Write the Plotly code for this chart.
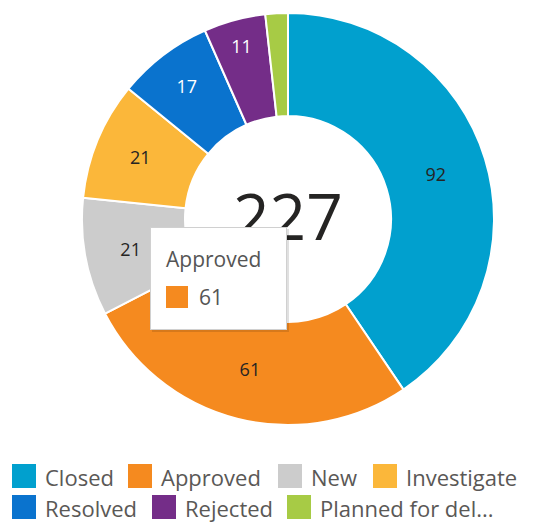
import plotly.graph_objects as go

# ---- data ----
categories = ["Closed", "Approved", "New", "Investigate", "Resolved", "Rejected", "Planned for del..."]
values = [92, 61, 21, 21, 17, 11, 4]
colors = ["#01A0CE", "#F58A1F", "#CCCCCC", "#FBB73A", "#0A73CE", "#742D88", "#A7CB45"]
text_colors = ["#252423", "#252423", "#252423", "#252423", "#FFFFFF", "#FFFFFF", "#252423"]
show_text = [True, True, True, True, True, True, False]
total = sum(values)
tooltip_index = 1

W, H = 534, 522

def px(x):
    return x / W

def py(y):
    return 1 - y / H

texts = [str(v) if s else "" for v, s in zip(values, show_text)]

fig = go.Figure(go.Pie(
    labels=categories,
    values=values,
    marker=dict(colors=colors, line=dict(color="white", width=2)),
    hole=0.5,
    sort=False,
    direction="clockwise",
    rotation=0,
    text=texts,
    textinfo="text",
    textposition="inside",
    insidetextorientation="horizontal",
    textfont=dict(family="Open Sans", size=18, color=text_colors),
    domain=dict(x=[px(82), px(494)], y=[py(425), py(13)]),
    showlegend=False,
    hoverinfo="skip",
    automargin=False,
))

annotations = []
shapes = []

# center total
annotations.append(dict(
    x=px(288), y=py(216), xref="paper", yref="paper", text=str(total),
    showarrow=False, font=dict(family="Open Sans", size=64, color="#252423"),
    xanchor="center", yanchor="middle",
))

# tooltip (shadow + box)
tx0, ty0, tx1, ty1 = 150, 227, 287, 330
annotations.append(dict(
    x=px(tx0 + 2), y=py(ty0 + 2), xref="paper", yref="paper", text=" ",
    showarrow=False, xanchor="left", yanchor="top",
    width=tx1 - tx0, height=ty1 - ty0, bgcolor="rgba(0,0,0,0.12)", borderwidth=0, borderpad=0,
))
annotations.append(dict(
    x=px(tx0), y=py(ty0), xref="paper", yref="paper", text=" ",
    showarrow=False, xanchor="left", yanchor="top",
    width=tx1 - tx0 - 2, height=ty1 - ty0 - 2, bgcolor="white", bordercolor="#D0D0D0", borderwidth=1, borderpad=0,
))
annotations.append(dict(
    x=px(164), y=py(259), xref="paper", yref="paper", text=categories[tooltip_index],
    showarrow=False, xanchor="left", yanchor="middle",
    font=dict(family="Open Sans", size=21, color="#555555"),
))
annotations.append(dict(
    x=px(166), y=py(297), xref="paper", yref="paper", text=" ",
    showarrow=False, xanchor="left", yanchor="middle",
    width=22, height=22, bgcolor=colors[tooltip_index], borderpad=0, borderwidth=0,
))
annotations.append(dict(
    x=px(197), y=py(297), xref="paper", yref="paper", text=str(values[tooltip_index]),
    showarrow=False, xanchor="left", yanchor="middle",
    font=dict(family="Open Sans", size=21, color="#555555"),
))

# legend (two rows)
legend_rows = [[0, 1, 2, 3], [4, 5, 6]]
row_y = [476, 507]
row_x = [[12, 128, 278, 373], [12, 152, 287]]
sq = 24
for r, idxs in enumerate(legend_rows):
    for j, i in enumerate(idxs):
        x0 = row_x[r][j]
        yc = row_y[r]
        shapes.append(dict(
            type="rect", xref="paper", yref="paper",
            x0=px(x0), x1=px(x0 + sq), y0=py(yc + sq / 2), y1=py(yc - sq / 2),
            fillcolor=colors[i], line=dict(width=0),
        ))
        annotations.append(dict(
            x=px(x0 + sq + 7), y=py(yc + 1), xref="paper", yref="paper", text=categories[i],
            showarrow=False, xanchor="left", yanchor="middle",
            font=dict(family="Open Sans", size=22, color="#5A5856"),
        ))

fig.update_layout(
    width=W, height=H,
    margin=dict(l=0, r=0, t=0, b=0),
    paper_bgcolor="white",
    plot_bgcolor="white",
    annotations=annotations,
    shapes=shapes,
)

fig.write_html(
    "out.html",
    config={"displayModeBar": False},
    post_script="document.body.style.margin='0';document.body.style.overflow='hidden';",
)
